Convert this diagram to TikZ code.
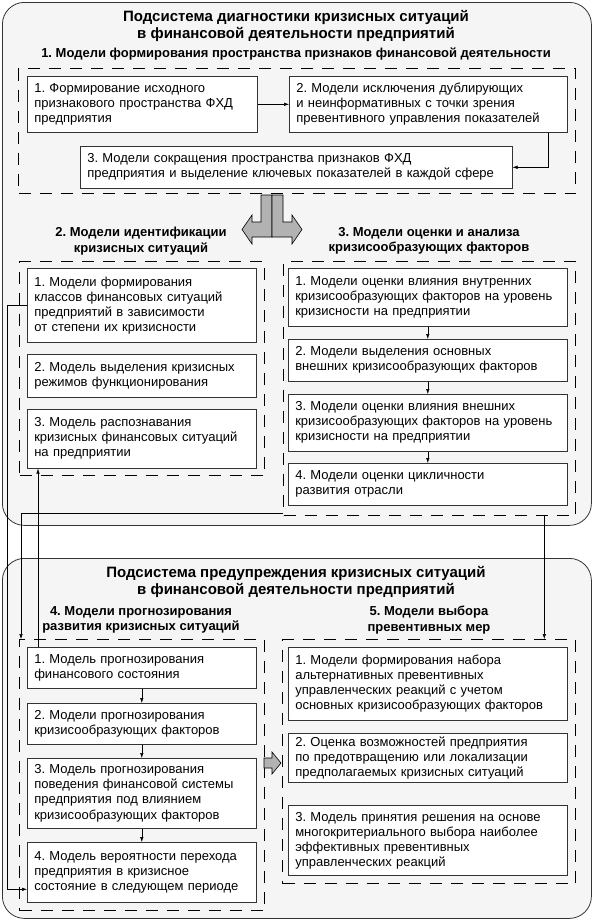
\documentclass[tikz,border=0pt]{standalone}
\usepackage{fontspec}
\setmainfont{Liberation Sans}
\usetikzlibrary{positioning}
\usetikzlibrary{arrows.meta,calc}
\frenchspacing

\tikzset{
  sysbox/.style={draw=black!80, fill=black!4, rounded corners=22pt, line width=0.8pt, anchor=north west, inner sep=0pt},
  grp/.style={draw, line width=1.3pt, dash pattern=on 12pt off 9pt, anchor=north west, inner sep=0pt},
  mbox/.style={draw=black!80, fill=white, line width=0.6pt, anchor=north west, align=left, inner xsep=7pt, inner ysep=0pt, font=\fontsize{13}{15}\selectfont},
  title/.style={align=center, font=\bfseries\fontsize{15}{17}\selectfont},
  glabel/.style={align=center, font=\bfseries\fontsize{13}{15.5}\selectfont},
  arr/.style={-{Latex[length=5pt,width=3.5pt]}, line width=0.5pt},
  grayarr/.style={draw, fill=black!30, line width=0.6pt},
}

\begin{document}
\begin{tikzpicture}[x=1pt, y=-1pt]
  \useasboundingbox (0,0) rectangle (593,921);

  %subsystems
  \node[sysbox, minimum width=589pt, minimum height=523pt] (s1) at (2,2) {};
  \node[sysbox, minimum width=589pt, minimum height=360pt] (s2) at (2,558) {};

  \node[title] (t1) at (296,26) {Подсистема диагностики кризисных ситуаций\\в финансовой деятельности предприятий};
  \node[title] (t2) at (296,582) {Подсистема предупреждения кризисных ситуаций\\в финансовой деятельности предприятий};

  %groups of models
  \foreach \x/\y/\w/\h/\name in {18/68/557/125/g1, 19/261/245/214/g2, 283/261/292/254/g3, 19/639/245/271/g4, 282/639/293/244/g5}{
      \node[grp, minimum width=\w pt, minimum height=\h pt] (\name) at (\x,\y) {};
  }

  \node[glabel] (l1) at (296,54) {1. Модели формирования пространства признаков финансовой деятельности};
  \node[glabel] (l2) at (141,241) {2. Модели идентификации\\кризисных ситуаций};
  \node[glabel] (l3) at (429,241) {3. Модели оценки и анализа\\кризисообразующих факторов};
  \node[glabel] (l4) at (141,620) {4. Модели прогнозирования\\развития кризисных ситуаций};
  \node[glabel] (l5) at (429,620) {5. Модели выбора\\превентивных мер};

  %models
  \foreach \x/\y/\w/\h/\name/\txt [evaluate=\w as \tw using \w-14] in {
      27/76/230/56/b11/{1. Формирование исходного\\признакового пространства ФХД\\предприятия},
      289/76/278/56/b12/{2. Модели исключения дублирующих\\и неинформативных с точки зрения\\превентивного управления показателей},
      80/146/432/42/b13/{3. Модели сокращения пространства признаков ФХД\\предприятия и выделение ключевых показателей в каждой сфере},
      27/268/229/74/b21/{1. Модели формирования\\классов финансовых ситуаций\\предприятий в зависимости\\от степени их кризисности},
      27/354/229/43/b22/{2. Модель выделения кризисных\\режимов функционирования},
      27/409/229/59/b23/{3. Модель распознавания\\кризисных финансовых ситуаций\\на предприятии},
      288/268/279/58/b31/{1. Модели оценки влияния внутренних\\кризисообразующих факторов на уровень\\кризисности на предприятии},
      288/339/279/42/b32/{2. Модели выделения основных\\внешних кризисообразующих факторов},
      288/394/279/57/b33/{3. Модели оценки влияния внешних\\кризисообразующих факторов на уровень\\кризисности на предприятии},
      288/463/279/42/b34/{4. Модели оценки цикличности\\развития отрасли},
      27/647/229/41/b41/{1. Модель прогнозирования\\финансового состояния},
      27/703/229/41/b42/{2. Модели прогнозирования\\кризисообразующих факторов},
      27/758/229/70/b43/{3. Модель прогнозирования\\поведения финансовой системы\\предприятия под влиянием\\кризисообразующих факторов},
      27/842/229/60/b44/{4. Модель вероятности перехода\\предприятия в кризисное\\состояние в следующем периоде},
      288/647/279/73/b51/{1. Модели формирования набора\\альтернативных превентивных\\управленческих реакций с учетом\\основных кризисообразующих факторов},
      288/733/279/49/b52/{2. Оценка возможностей предприятия\\по предотвращению или локализации\\предполагаемых кризисных ситуаций},
      288/805/279/70/b53/{3. Модель принятия решения на основе\\многокритериального выбора наиболее\\эффективных превентивных\\управленческих реакций}}{
      \node[mbox, minimum width=\w pt, minimum height=\h pt, text width=\tw pt] (\name) at (\x,\y) {\txt};
  }

  %gray arrows
  \draw[grayarr] (272,195) -- (261,195) -- (261,222) -- (252,222) -- (252,215) -- (242,229.5) -- (252,244) -- (252,237) -- (272,237) -- cycle;
  \draw[grayarr] (272,195) -- (283,195) -- (283,222) -- (292,222) -- (292,215) -- (302,229.5) -- (292,244) -- (292,237) -- (272,237) -- cycle;
  \draw[grayarr] (264,758) -- (272,758) -- (272,752) -- (281,763) -- (272,774) -- (272,768) -- (264,768) -- cycle;

  %connectors
  \draw[arr] (b11) -- (b12);
  \draw[arr] ([xshift=-19pt]b12.south east) |- (b13.east);
  \foreach \a/\b in {b31/b32, b32/b33, b33/b34, b41/b42, b42/b43, b43/b44}{
      \draw[arr] (\a) -- (\b);
  }
  \draw[arr] (b21.west) -- ++(-20pt,0) |- ([yshift=-17pt]b44.west);
  \draw[arr] ([xshift=11pt]b41.north west) -- ([xshift=11pt]b23.south west);
  \draw[arr] ([yshift=3pt]g3.south west) -| ([xshift=2pt]g4.north west);
  \draw[arr] ([xshift=-32pt]g3.south east) -- ([xshift=-32pt]g5.north east);

\end{tikzpicture}
\end{document}
